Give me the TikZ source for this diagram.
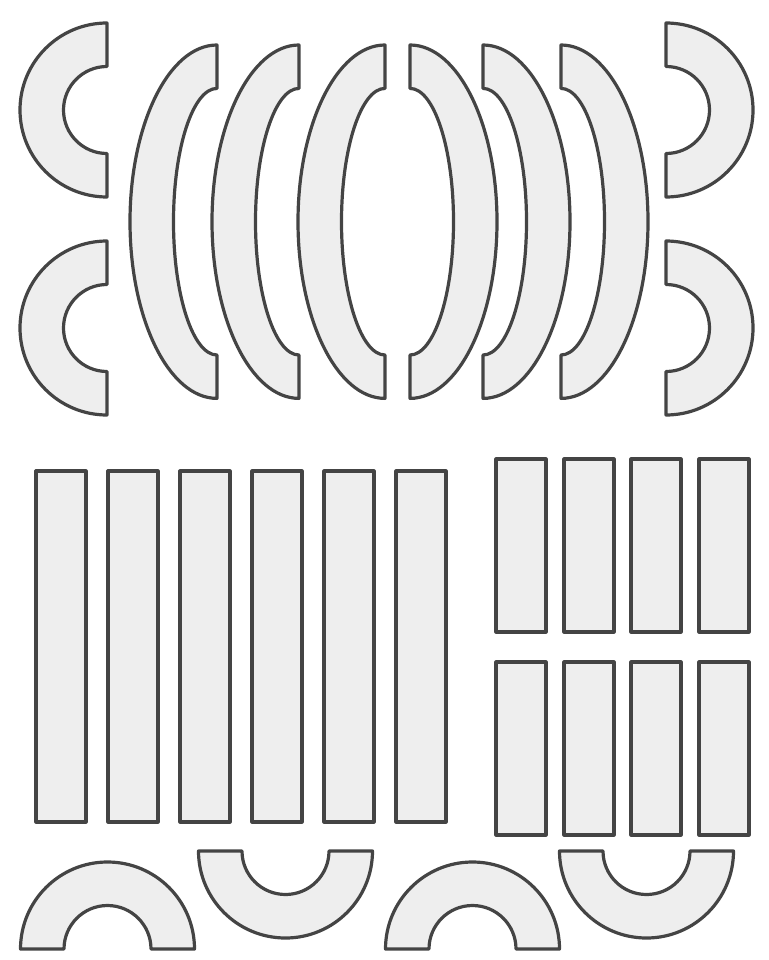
\documentclass[tikz,border=0pt]{standalone}
\definecolor{edgegray}{HTML}{444444}
\definecolor{piecefill}{HTML}{EEEEEE}
\begin{document}
\begin{tikzpicture}[x=1pt, y=-1pt,
  piece/.style = {draw=edgegray, fill=piecefill, line width=3.2pt,
    line join=round}]
  \useasboundingbox (0,0) rectangle (768,960);
  % half rings, opening right / left
  \foreach \cy in {110,328} {
    \draw[piece] (107,\cy-87) arc[start angle=-90, end angle=-270, radius=87]
      -- (107,\cy+43.5) arc[start angle=90, end angle=270, radius=43.5] -- cycle;
    \draw[piece] (666,\cy-87) arc[start angle=-90, end angle=90, radius=87]
      -- (666,\cy+43.5) arc[start angle=90, end angle=-90, radius=43.5] -- cycle;
  }
  % long curved pieces
  \foreach \sx in {217,299,385}
    \draw[piece] (\sx,45) arc[start angle=-90, end angle=-270, x radius=87, y radius=176.7]
      -- (\sx,355) arc[start angle=90, end angle=270, x radius=43.5, y radius=133.3] -- cycle;
  \foreach \sx in {410,483,561}
    \draw[piece] (\sx,45) arc[start angle=-90, end angle=90, x radius=87, y radius=176.7]
      -- (\sx,355) arc[start angle=90, end angle=-90, x radius=43.5, y radius=133.3] -- cycle;
  % strips
  \foreach \i in {0,...,5}
    \draw[piece] ({36+72*\i},471) rectangle ++(50,351);
  \foreach \x in {496,564,631,699} {
    \draw[piece] (\x,459) rectangle ++(50,173);
    \draw[piece] (\x,662) rectangle ++(50,173);
  }
  % arches and cups at the bottom
  \foreach \cx in {107.5,472.5}
    \draw[piece] (\cx-87,949) arc[start angle=180, end angle=360, radius=87]
      -- (\cx+43.5,949) arc[start angle=0, end angle=-180, radius=43.5] -- cycle;
  \foreach \cx in {285.5,646.5}
    \draw[piece] (\cx-87,851) arc[start angle=180, end angle=0, radius=87]
      -- (\cx+43.5,851) arc[start angle=0, end angle=180, radius=43.5] -- cycle;
\end{tikzpicture}
\end{document}
